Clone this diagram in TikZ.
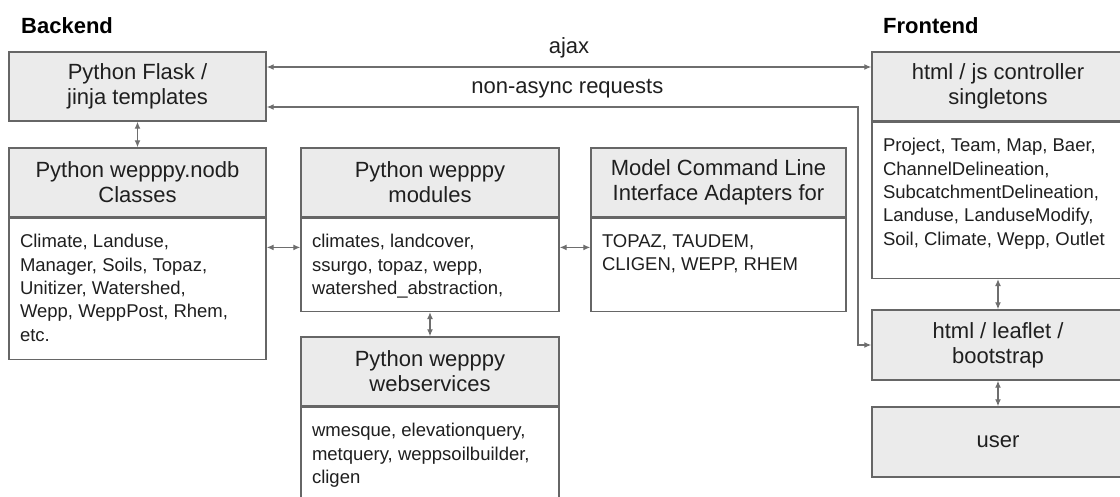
\documentclass[tikz,border=0pt]{standalone}
\usepackage{fontspec}
\setmainfont{Liberation Sans}
\usetikzlibrary{arrows.meta}
\definecolor{boxline}{HTML}{666666}
\definecolor{headfill}{HTML}{EBEBEB}
\definecolor{linkgray}{HTML}{6E6E6E}
\definecolor{inkgray}{HTML}{1F1F1F}
\newcommand{\bodylines}[3]{\parbox[c][#1][t]{#2}{\raggedright #3}}
\begin{document}
\begin{tikzpicture}[x=1pt,y=-1pt,>={Latex[length=7pt,width=6pt]},
  head/.style={draw=boxline, fill=headfill, line width=1.4pt, inner sep=0pt, align=center,
    text=inkgray, font=\fontsize{22}{25}\selectfont, minimum height=69pt},
  body/.style={draw=boxline, fill=white, line width=1.4pt, inner xsep=11pt, inner ysep=16pt,
    anchor=north, text=inkgray, font=\fontsize{18.5}{23.3}\selectfont},
  link/.style={<->, draw=linkgray, line width=1.3pt},
  lbl/.style={inner sep=0pt, text=inkgray, font=\fontsize{22}{25}\selectfont},
  side/.style={anchor=west, inner sep=0pt, text=black, font=\fontsize{22}{25}\selectfont\bfseries}]
  \useasboundingbox (0,0) rectangle (1120,497);

  % Titles
  \node[side] (backend) at (21,26) {Backend};
  \node[side] (frontend) at (883,26) {Frontend};

  % Backend boxes
  \node[head, minimum width=257pt] (flask) at (137.5,86.5) {Python Flask /\\jinja templates};
  \node[head, minimum width=257pt] (nodb) at (137.5,182.5) {Python wepppy.nodb\\Classes};
  \node[body] (nodbbody) at (nodb.south) {\bodylines{109pt}{235pt}{Climate, Landuse,\\Manager, Soils, Topaz,\\Unitizer, Watershed,\\Wepp, WeppPost, Rhem,\\etc.}};
  \node[head, minimum width=258pt] (modules) at (430,182.5) {Python wepppy\\modules};
  \node[body] (modulesbody) at (modules.south) {\bodylines{61pt}{236pt}{climates, landcover,\\ssurgo, topaz, wepp,\\watershed\_abstraction,}};
  \node[head, minimum width=255pt] (cli) at (718.5,182.5) {Model Command Line\\Interface Adapters for};
  \node[body] (clibody) at (cli.south) {\bodylines{61pt}{233pt}{TOPAZ, TAUDEM,\\CLIGEN, WEPP, RHEM}};
  \node[head, minimum width=258pt] (websvc) at (430,371.5) {Python wepppy\\webservices};
  \node[body] (websvcbody) at (websvc.south) {\bodylines{67pt}{236pt}{wmesque, elevationquery,\\metquery, weppsoilbuilder,\\cligen}};

  % Frontend boxes
  \node[head, minimum width=252pt] (ctrl) at (998,86.5) {html / js controller\\singletons};
  \node[body] (ctrlbody) at (ctrl.south) {\bodylines{124pt}{230pt}{Project, Team, Map, Baer,\\ChannelDelineation,\\SubcatchmentDelineation,\\Landuse, LanduseModify,\\Soil, Climate, Wepp, Outlet}};
  \node[head, minimum width=252pt, minimum height=70pt] (leaflet) at (998,345) {html / leaflet /\\bootstrap};
  \node[head, minimum width=252pt, minimum height=70pt] (user) at (998,442) {user};

  % Links
  \coordinate (nabend) at (858,107);
  \draw[link] ([yshift=19.5pt]flask.east) -- node[lbl, above=8pt] (ajaxlbl) {ajax} ([yshift=19.5pt]flask.east -| ctrl.west);
  \draw[link] ([yshift=-20.5pt]flask.east) -- node[lbl, above=8pt, xshift=5pt] (nalbl) {non-async requests} (nabend) |- (leaflet.west);
  \draw[link] (flask.south) -- (nodb.north);
  \draw[link] ([yshift=17.5pt]modulesbody.west) -- ([yshift=17.5pt]modulesbody.west -| nodbbody.east);
  \draw[link] ([yshift=17.5pt]modulesbody.east) -- ([yshift=17.5pt]modulesbody.east -| clibody.west);
  \draw[link] (modulesbody.south) -- (websvc.north);
  \draw[link] (ctrlbody.south) -- (leaflet.north);
  \draw[link] (leaflet.south) -- (user.north);
\end{tikzpicture}
\end{document}
